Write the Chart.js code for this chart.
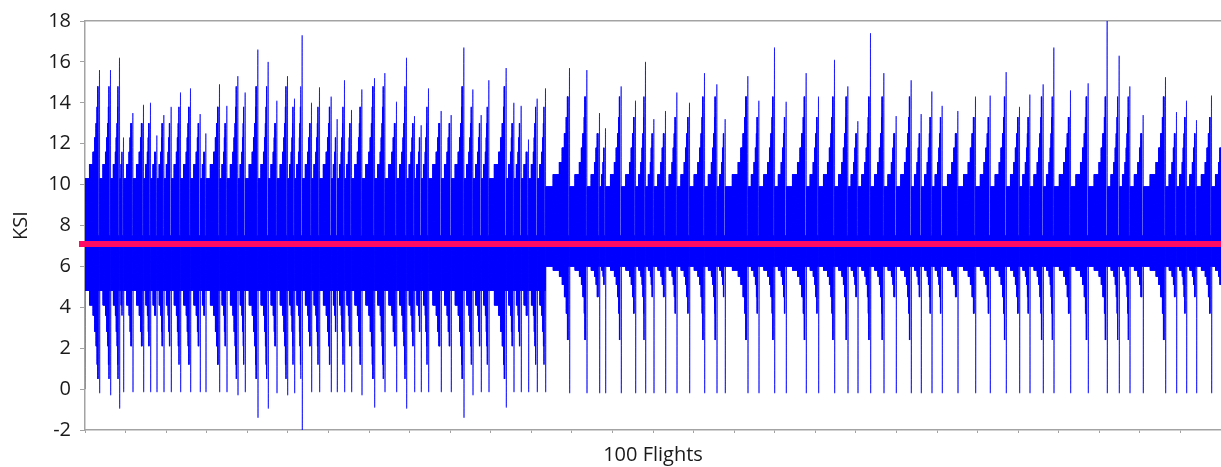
<!doctype html>
<html lang="en">
<head>
<meta charset="utf-8">
<title>KSI - 100 Flights</title>
<script src="https://cdn.jsdelivr.net/npm/chart.js@4/dist/chart.umd.min.js"></script>
<style>
  html, body { margin: 0; padding: 0; background: #fff; }
  #chart { display: block; }
</style>
</head>
<body>
<canvas id="chart" width="1221" height="467"></canvas>
<script>
// cycle index at which each flight reaches its ground cycle (3 units per px of axis)
var flightEnd = [
  44, 77, 104, 116, 144, 176, 197, 216, 237, 259,
  287, 317, 346, 363, 404, 426, 459, 481, 519, 550,
  576, 608, 629, 652, 680, 704, 739, 757, 779, 800,
  831, 869, 900, 935, 965, 989, 1009, 1031, 1069, 1099,
  1137, 1164, 1189, 1212, 1264, 1287, 1309, 1331, 1357, 1382,
  1454, 1506, 1544, 1562, 1609, 1652, 1682, 1707, 1742, 1776,
  1814, 1859, 1896, 1921, 1989, 2022, 2069, 2104, 2164, 2201,
  2249, 2289, 2319, 2357, 2397, 2434, 2479, 2509, 2541, 2572,
  2619, 2672, 2716, 2764, 2804, 2835, 2875, 2907, 2957, 3010,
  3067, 3103, 3135, 3175, 3242, 3275, 3305, 3335, 3380, 3408
];
// max stress of each flight (KSI)
var flightPeak = [
  15.6, 15.6, 16.2, 12.3, 13.5, 13.9, 14.0, 12.4, 13.4, 13.8,
  14.5, 14.7, 13.45, 12.5, 14.9, 13.85, 15.3, 14.5, 16.6, 16.0,
  14.1, 15.3, 14.2, 17.3, 14.0, 14.75, 14.3, 13.2, 15.1, 13.65,
  14.65, 15.2, 15.45, 14.05, 16.2, 13.35, 12.9, 14.7, 13.6, 13.4,
  16.7, 14.65, 13.4, 15.1, 15.7, 14.0, 13.85, 12.2, 14.2, 14.7,
  15.7, 15.6, 13.5, 12.75, 14.8, 14.1, 16.0, 13.2, 13.6, 14.5,
  14.0, 15.45, 14.9, 13.2, 15.3, 14.1, 16.7, 14.05, 15.45, 14.3,
  16.1, 14.8, 13.1, 17.4, 15.45, 13.35, 15.1, 13.45, 14.55, 13.85,
  13.6, 14.3, 14.35, 15.5, 13.8, 14.4, 14.9, 16.7, 14.6, 14.95,
  18.0, 16.3, 14.8, 13.4, 15.25, 13.55, 14.1, 13.15, 14.35, 12.4
];
// ground (minimum) stress of each flight; last flight is still airborne
var flightTrough = [
  -0.2, -0.3, -0.95, -0.15, -0.15, -0.15, -0.15, -0.15, -0.15, -0.15,
  -0.15, -0.15, -0.15, -0.15, -0.15, -0.15, -0.3, -0.15, -1.4, -0.95,
  -0.2, -0.3, -0.2, -2.0, -0.15, -0.15, -0.15, -0.15, -0.15, -0.15,
  -0.3, -0.9, -0.15, -0.15, -0.95, -0.15, -0.15, -0.15, -0.15, -0.15,
  -1.4, -0.3, -0.15, -0.15, -0.9, -0.15, -0.15, -0.15, -0.15, -0.15,
  -0.2, -0.2, -0.2, -0.2, -0.2, -0.2, -0.2, -0.2, -0.2, -0.2,
  -0.2, -0.2, -0.2, -0.2, -0.2, -0.2, -0.2, -0.2, -0.2, -0.2,
  -0.2, -0.2, -0.2, -0.2, -0.2, -0.2, -0.2, -0.2, -0.2, -0.2,
  -0.2, -0.2, -0.2, -0.2, -0.2, -0.2, -0.2, -0.2, -0.2, -0.2,
  -0.2, -0.2, -0.2, -0.2, -0.2, -0.2, -0.2, -0.2, -0.2, null
];

// load classes (max / min of a cycle), first block of flights
var upperA = [10.3, 11.0, 11.6, 12.3, 13.0, 13.8, 14.8];
var lowerA = [4.8, 4.1, 3.6, 2.8, 2.1, 1.2, 0.5];
// load classes after the spectrum change
var upperB = [9.9, 10.5, 11.1, 11.8, 12.5, 13.3, 14.3];
var lowerB = [6.0, 5.8, 5.5, 5.1, 4.5, 3.7, 2.4];
// part of a flight spent in each class
var classShare = [0.32, 0.28, 0.13, 0.10, 0.08, 0.05, 0.04];
// descent cycles just before landing
var descentMax = 7.5;
var descentLen = 3;
var cyclesPerUnit = 2;
var secondBlock = 50;       // first flight using the B classes
var meanStress = 7.1;       // 1g stress
var xMax = 3408;

var series = [{x: 0, y: 0}];
var prev = 0;
for (var f = 0; f < flightEnd.length; f++) {
    var up = f >= secondBlock ? upperB : upperA;
    var lo = f >= secondBlock ? lowerB : lowerA;
    var end = flightEnd[f], peak = flightPeak[f], trough = flightTrough[f];
    var landed = trough !== null;

    // classes below the flight peak
    var k = 1;
    while (k < up.length && up[k] < peak - 0.3) k++;
    var tot = 0;
    for (var c = 0; c < k; c++) tot += classShare[c];

    var x0 = prev + 0.8;
    var x1 = landed ? end - 1.5 - descentLen : end;
    var n = Math.max(1, Math.floor((x1 - x0) * cyclesPerUnit));
    var step = (x1 - x0) / n;
    for (var i = 0; i < n; i++) {
        var cls = 0, acc = classShare[0] / tot;
        while (cls < k - 1 && (i + 0.5) / n > acc) { cls++; acc += classShare[cls] / tot; }
        var x = x0 + i * step;
        series.push({x: x, y: up[cls]}, {x: x + step / 2, y: lo[cls]});
    }
    if (landed) {
        for (var d = 0; d < descentLen * cyclesPerUnit; d++) {
            var xd = x1 + d / cyclesPerUnit;
            series.push({x: xd, y: descentMax}, {x: xd + 0.5 / cyclesPerUnit, y: lo[0]});
        }
        series.push({x: end - 0.5, y: peak}, {x: end, y: trough});
    }
    prev = end;
}

var grey = '#a3a3a3';

new Chart(document.getElementById('chart'), {
    type: 'line',
    data: {
        datasets: [{
            data: [{x: -18, y: meanStress}, {x: xMax, y: meanStress}],
            borderColor: '#ff0a64',
            borderWidth: 6,
            pointRadius: 0,
            clip: false
        }, {
            data: series,
            borderColor: '#0000ff',
            borderWidth: 0.7,
            pointRadius: 0,
            cubicInterpolationMode: 'monotone'
        }]
    },
    options: {
        responsive: false,
        animation: false,
        parsing: false,
        normalized: true,
        events: [],
        layout: { padding: { top: 13, right: 0, left: 0, bottom: 0 } },
        plugins: { legend: { display: false }, tooltip: { enabled: false } },
        scales: {
            x: {
                type: 'linear',
                min: 0,
                max: xMax,
                ticks: { display: false, stepSize: 122 },
                grid: { drawOnChartArea: false, color: grey, tickLength: 3 },
                border: { color: grey, width: 1.5 },
                title: {
                    display: true,
                    text: '100 Flights',
                    color: '#1a1a1a',
                    font: { family: 'Open Sans', size: 20 },
                    padding: { top: 0, bottom: 0 }
                },
                afterFit: function (s) { s.height = 37; }
            },
            x2: {
                type: 'linear',
                position: 'top',
                min: 0,
                max: xMax,
                ticks: { display: false },
                grid: { display: false },
                border: { color: grey, width: 1.5 },
                afterFit: function (s) { s.height = 0; }
            },
            y: {
                min: -2,
                max: 18,
                ticks: {
                    stepSize: 2,
                    color: '#1a1a1a',
                    padding: 9,
                    font: { family: 'Open Sans', size: 20 }
                },
                grid: { drawOnChartArea: false, color: grey, tickLength: 5 },
                border: { color: grey, width: 1.5 },
                title: {
                    display: true,
                    text: 'KSI',
                    color: '#1a1a1a',
                    font: { family: 'Open Sans', size: 20 },
                    padding: { top: 9, bottom: 0 }
                },
                afterFit: function (s) { s.width = 85; }
            }
        }
    }
});
</script>
</body>
</html>
